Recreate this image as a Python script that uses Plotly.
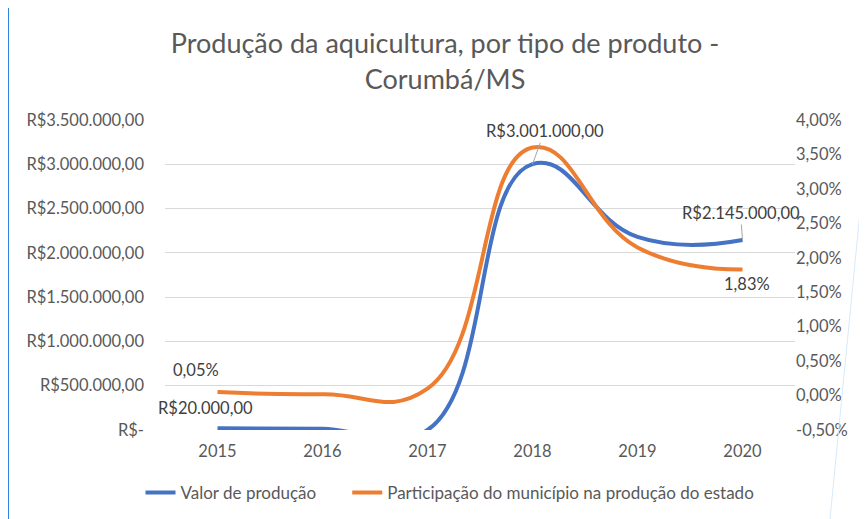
import plotly.graph_objects as go

anos = ["2015", "2016", "2017", "2018", "2019", "2020"]
valor_producao = [20000, 15000, 0, 3001000, 2180000, 2145000]
participacao = [0.05, 0.02, 0.10, 3.60, 2.15, 1.83]  # em %

left_ticks = [0, 500000, 1000000, 1500000, 2000000, 2500000, 3000000, 3500000]
left_text = ["R$-", "R$500.000,00", "R$1.000.000,00", "R$1.500.000,00",
             "R$2.000.000,00", "R$2.500.000,00", "R$3.000.000,00", "R$3.500.000,00"]
right_ticks = [-0.5, 0, 0.5, 1, 1.5, 2, 2.5, 3, 3.5, 4]
right_text = ["-0,50%", "0,00%", "0,50%", "1,00%", "1,50%", "2,00%", "2,50%",
              "3,00%", "3,50%", "4,00%"]

FONT = "Lato, 'Open Sans', sans-serif"
GREY = "#595959"
TS = 16.5
W, H = 859, 511
ML, MR, MT, MB = 157, 72, 112, 89
PW, PH = W - ML - MR, H - MT - MB


def px(fx):
    return (fx - ML) / PW


def py(fy):
    return (H - MB - fy) / PH


fig = go.Figure()
fig.add_trace(go.Scatter(
    x=anos, y=valor_producao, name="Valor de produção" + "\u00a0" * 6, mode="lines",
    line=dict(color="#4472C4", width=4, shape="spline", smoothing=1.3),
    yaxis="y", cliponaxis=True))
fig.add_trace(go.Scatter(
    x=anos, y=participacao, name="Participação do município na produção do estado",
    mode="lines",
    line=dict(color="#ED7D31", width=4, shape="spline", smoothing=1.3),
    yaxis="y2", cliponaxis=True))

annotations = [
    dict(x=0, y=valor_producao[0], xref="x", yref="y", text="R$20.000,00",
         showarrow=False, xshift=-12, yshift=20),
    dict(x=0, y=participacao[0], xref="x", yref="y2", text="0,05%",
         showarrow=False, xshift=-22, yshift=22),
    dict(x=3, y=valor_producao[3], xref="x", yref="y", text="R$3.001.000,00",
         showarrow=True, arrowhead=0, arrowwidth=1, arrowcolor="#A6A6A6",
         ax=12, ay=-33),
    dict(x=5, y=valor_producao[5], xref="x", yref="y", text="R$2.145.000,00",
         showarrow=True, arrowhead=0, arrowwidth=1, arrowcolor="#A6A6A6",
         ax=-2, ay=-27),
    dict(x=5, y=participacao[5], xref="x", yref="y2", text="1,83%",
         showarrow=False, xshift=4, yshift=-15),
]
for a in annotations:
    a["font"] = dict(family=FONT, size=TS, color="#404040")

fig.update_layout(
    width=W, height=H,
    paper_bgcolor="white", plot_bgcolor="white",
    margin=dict(l=ML, r=MR, t=MT, b=MB),
    font=dict(family=FONT, size=TS, color=GREY),
    title=dict(text="Produção da aquicultura, por tipo de produto -<br>Corumbá/MS",
               x=437 / W, xref="container", xanchor="center",
               y=0.911, yref="container", yanchor="middle",
               font=dict(family=FONT, size=27, color=GREY)),
    xaxis=dict(type="category", range=[-0.5, 5.5], showgrid=False, showline=False,
               ticks="", ticklabelstandoff=9,
               tickfont=dict(size=TS, color=GREY), zeroline=False),
    yaxis=dict(range=[0, 3500000], tickvals=left_ticks, ticktext=left_text,
               showgrid=True, gridcolor="#D9D9D9", gridwidth=1, zeroline=False,
               showline=False, ticks="", ticklabelstandoff=20,
               tickfont=dict(size=TS, color=GREY)),
    yaxis2=dict(range=[-0.5, 4], tickvals=right_ticks, ticktext=right_text,
                overlaying="y", side="right", showgrid=False, zeroline=False,
                showline=False, ticks="", tickfont=dict(size=TS, color=GREY)),
    legend=dict(orientation="h", x=442 / W, xanchor="center", xref="container",
                y=0.051, yref="container", yanchor="middle",
                font=dict(size=17, color=GREY), itemwidth=30,
                traceorder="normal"),
    annotations=annotations,
    shapes=[
        dict(type="line", xref="paper", yref="paper",
             x0=px(0), x1=px(0), y0=py(0), y1=py(H),
             line=dict(color="#2E86DE", width=2)),
        dict(type="line", xref="paper", yref="paper",
             x0=px(W), x1=px(822), y0=py(132), y1=py(H),
             line=dict(color="#D6EAFB", width=1)),
    ],
)

fig.write_html("out.html")
